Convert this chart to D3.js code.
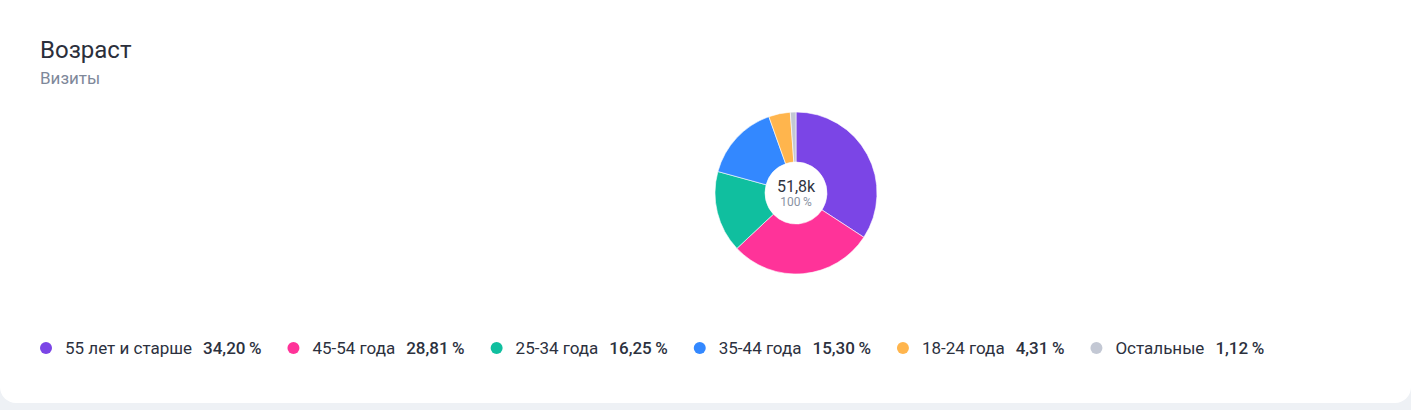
<!DOCTYPE html>
<html lang="ru">
  <head>
    <meta charset="UTF-8" />
    <title>Возраст</title>
    <script src="https://d3js.org/d3.v7.min.js"></script>
    <style>
      html, body {
        margin: 0;
        padding: 0;
        background: #eef1f5;
      }
      .card {
        position: absolute;
        left: 0;
        top: 0;
        width: 1411px;
        height: 403px;
        background: #fff;
        border-radius: 0 0 16px 16px;
      }
      svg text {
        font-family: Roboto, "Noto Sans", sans-serif;
      }
    </style>
  </head>
  <body>
    <div class="card">
      <svg class="chart"></svg>
    </div>

    <script>
      let width = 1411
      let height = 403

      let categories = ['55 лет и старше', '45-54 года', '25-34 года', '35-44 года', '18-24 года', 'Остальные']
      let shares = [34.20, 28.81, 16.25, 15.30, 4.31, 1.12]
      let colors = ['#7b45e6', '#ff3399', '#10bf9f', '#3388ff', '#ffb54d', '#c3c8d4']
      let totalLabel = '51,8k'
      let totalShare = '100\u2009%'

      let data = categories.map((c, i) => ({ name: c, value: shares[i] }))

      let colorScale = d3.scaleOrdinal().domain(categories).range(colors)
      let fmt = v => d3.format('.2f')(v).replace('.', ',') + '\u2009%'

      let svg = d3.select('svg.chart')
        .attr('width', width)
        .attr('height', height)

      // header
      svg.append('text')
        .attr('x', 40)
        .attr('y', 58)
        .style('font-size', '24px')
        .style('fill', '#2b2f3b')
        .text('Возраст')
      svg.append('text')
        .attr('x', 40)
        .attr('y', 84)
        .style('font-size', '17px')
        .style('fill', '#7e889a')
        .text('Визиты')

      // donut
      let outerR = 81
      let innerR = 31
      let pie = d3.pie().value(d => d.value).sort(null)
      let arc = d3.arc().innerRadius(innerR).outerRadius(outerR)

      let g = svg.append('g').attr('transform', 'translate(796, 193)')
      g.selectAll('path')
        .data(pie(data))
        .enter()
        .append('path')
        .attr('d', arc)
        .style('fill', d => colorScale(d.data.name))
        .style('stroke', '#fff')
        .style('stroke-width', 0.6)

      g.append('text')
        .attr('text-anchor', 'middle')
        .attr('y', -1.5)
        .style('font-size', '16px')
        .style('fill', '#2f3441')
        .text(totalLabel)
      g.append('text')
        .attr('text-anchor', 'middle')
        .attr('y', 12.5)
        .style('font-size', '12px')
        .style('fill', '#8a93a3')
        .text(totalShare)

      // legend
      let legend = svg.append('g').attr('transform', 'translate(0, 348)')
      let x = 46
      data.forEach(d => {
        let item = legend.append('g')
        item.append('circle')
          .attr('cx', x)
          .attr('cy', 0)
          .attr('r', 6)
          .style('fill', colorScale(d.name))
        let label = item.append('text')
          .attr('x', x + 19)
          .attr('y', 6)
          .style('font-size', '17px')
          .style('fill', '#2c313e')
          .text(d.name)
        let lw = label.node().getComputedTextLength()
        let val = item.append('text')
          .attr('x', x + 19 + lw + 11)
          .attr('y', 6)
          .style('font-size', '17px')
          .style('font-weight', 500)
          .style('fill', '#2c313e')
          .text(fmt(d.value))
        let vw = val.node().getComputedTextLength()
        x = x + 19 + lw + 11 + vw + 32
      })
    </script>
  </body>
</html>
